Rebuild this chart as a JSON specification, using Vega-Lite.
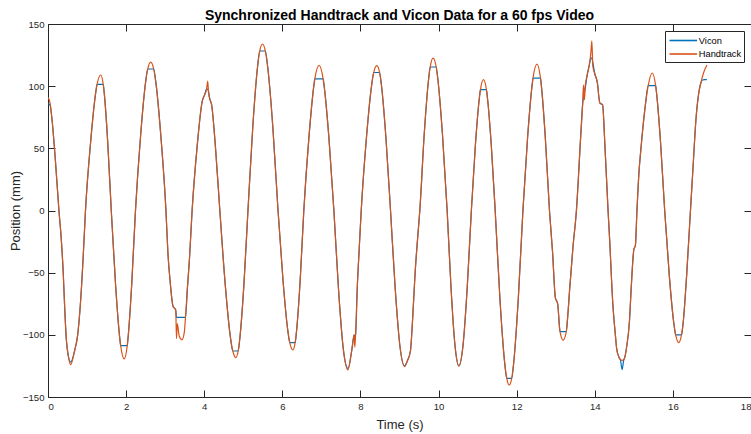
{
  "$schema": "https://vega.github.io/schema/vega-lite/v6.json",
  "width": 703,
  "height": 373,
  "autosize": {"type": "none"},
  "padding": {"left": 48, "top": 24, "right": 0, "bottom": 37},
  "background": "white",
  "title": {"text": "Synchronized Handtrack and Vicon Data for a 60 fps Video", "font": "Liberation Sans", "fontSize": 14, "fontWeight": "bold", "color": "#000000", "anchor": "middle", "frame": "group", "offset": 5, "dy": 9},
  "data": {"values": [
    {"t":0.00,"Vicon":86,"Handtrack":91},
    {"t":0.05,"Vicon":85,"Handtrack":87},
    {"t":0.10,"Vicon":74,"Handtrack":74},
    {"t":0.19,"Vicon":40,"Handtrack":40},
    {"t":0.28,"Vicon":0,"Handtrack":0},
    {"t":0.34,"Vicon":-23,"Handtrack":-23},
    {"t":0.39,"Vicon":-50,"Handtrack":-50},
    {"t":0.43,"Vicon":-80,"Handtrack":-80},
    {"t":0.47,"Vicon":-104,"Handtrack":-104},
    {"t":0.52,"Vicon":-117,"Handtrack":-117},
    {"t":0.58,"Vicon":-122,"Handtrack":-124},
    {"t":0.68,"Vicon":-113,"Handtrack":-113},
    {"t":0.76,"Vicon":-100,"Handtrack":-100},
    {"t":0.83,"Vicon":-75,"Handtrack":-75},
    {"t":0.90,"Vicon":-38,"Handtrack":-38},
    {"t":0.96,"Vicon":0,"Handtrack":0},
    {"t":1.09,"Vicon":54.5,"Handtrack":54.5},
    {"t":1.22,"Vicon":94.4,"Handtrack":94.4},
    {"t":1.257,"Vicon":101.5,"Handtrack":101.5},
    {"t":1.35,"Vicon":101.5,"Handtrack":109},
    {"t":1.414,"Vicon":101.5,"Handtrack":101.5},
    {"t":1.44,"Vicon":94.4,"Handtrack":94.4},
    {"t":1.53,"Vicon":54.5,"Handtrack":54.5},
    {"t":1.62,"Vicon":0,"Handtrack":0},
    {"t":1.73,"Vicon":-59.7,"Handtrack":-59.7},
    {"t":1.84,"Vicon":-103.4,"Handtrack":-103.4},
    {"t":1.861,"Vicon":-108.7,"Handtrack":-108.7},
    {"t":1.95,"Vicon":-108.7,"Handtrack":-119.4},
    {"t":2.029,"Vicon":-108.7,"Handtrack":-108.7},
    {"t":2.047,"Vicon":-103.4,"Handtrack":-103.4},
    {"t":2.143,"Vicon":-59.7,"Handtrack":-59.7},
    {"t":2.24,"Vicon":0,"Handtrack":0},
    {"t":2.37,"Vicon":59.7,"Handtrack":59.7},
    {"t":2.50,"Vicon":103.4,"Handtrack":103.4},
    {"t":2.554,"Vicon":113.8,"Handtrack":113.8},
    {"t":2.63,"Vicon":113.8,"Handtrack":119.4},
    {"t":2.706,"Vicon":113.8,"Handtrack":113.8},
    {"t":2.76,"Vicon":103.4,"Handtrack":103.4},
    {"t":2.89,"Vicon":59.7,"Handtrack":59.7},
    {"t":3.02,"Vicon":0,"Handtrack":0},
    {"t":3.07,"Vicon":-34,"Handtrack":-34},
    {"t":3.13,"Vicon":-58,"Handtrack":-58},
    {"t":3.20,"Vicon":-77,"Handtrack":-77},
    {"t":3.27,"Vicon":-80,"Handtrack":-80},
    {"t":3.29,"Vicon":-86,"Handtrack":-103},
    {"t":3.31,"Vicon":-86,"Handtrack":-91},
    {"t":3.36,"Vicon":-86,"Handtrack":-101},
    {"t":3.43,"Vicon":-86,"Handtrack":-104},
    {"t":3.49,"Vicon":-86,"Handtrack":-98},
    {"t":3.52,"Vicon":-86,"Handtrack":-86},
    {"t":3.57,"Vicon":-62,"Handtrack":-62},
    {"t":3.62,"Vicon":-40,"Handtrack":-40},
    {"t":3.69,"Vicon":0,"Handtrack":0},
    {"t":3.82,"Vicon":52,"Handtrack":52},
    {"t":3.95,"Vicon":88,"Handtrack":88},
    {"t":4.01,"Vicon":93,"Handtrack":93},
    {"t":4.06,"Vicon":97.7,"Handtrack":97.7},
    {"t":4.09,"Vicon":97.7,"Handtrack":104},
    {"t":4.11,"Vicon":96,"Handtrack":95},
    {"t":4.14,"Vicon":90,"Handtrack":90},
    {"t":4.19,"Vicon":85,"Handtrack":85},
    {"t":4.29,"Vicon":50,"Handtrack":50},
    {"t":4.40,"Vicon":0,"Handtrack":0},
    {"t":4.537,"Vicon":-59.2,"Handtrack":-59.2},
    {"t":4.673,"Vicon":-102.4,"Handtrack":-102.4},
    {"t":4.732,"Vicon":-113,"Handtrack":-113},
    {"t":4.81,"Vicon":-113,"Handtrack":-118.3},
    {"t":4.869,"Vicon":-113,"Handtrack":-113},
    {"t":4.913,"Vicon":-102.4,"Handtrack":-102.4},
    {"t":5.017,"Vicon":-59.2,"Handtrack":-59.2},
    {"t":5.12,"Vicon":0,"Handtrack":0},
    {"t":5.243,"Vicon":67,"Handtrack":67},
    {"t":5.367,"Vicon":116,"Handtrack":116},
    {"t":5.422,"Vicon":128.3,"Handtrack":128.3},
    {"t":5.49,"Vicon":128.3,"Handtrack":133.9},
    {"t":5.564,"Vicon":128.3,"Handtrack":128.3},
    {"t":5.623,"Vicon":116,"Handtrack":116},
    {"t":5.757,"Vicon":67,"Handtrack":67},
    {"t":5.89,"Vicon":0,"Handtrack":0},
    {"t":6.017,"Vicon":-56.1,"Handtrack":-56.1},
    {"t":6.143,"Vicon":-97.2,"Handtrack":-97.2},
    {"t":6.191,"Vicon":-106.3,"Handtrack":-106.3},
    {"t":6.27,"Vicon":-106.3,"Handtrack":-112.2},
    {"t":6.328,"Vicon":-106.3,"Handtrack":-106.3},
    {"t":6.363,"Vicon":-97.2,"Handtrack":-97.2},
    {"t":6.457,"Vicon":-56.1,"Handtrack":-56.1},
    {"t":6.55,"Vicon":0,"Handtrack":0},
    {"t":6.68,"Vicon":58.4,"Handtrack":58.4},
    {"t":6.81,"Vicon":101.1,"Handtrack":101.1},
    {"t":6.832,"Vicon":105.8,"Handtrack":105.8},
    {"t":6.94,"Vicon":105.8,"Handtrack":116.7},
    {"t":7.045,"Vicon":105.8,"Handtrack":105.8},
    {"t":7.067,"Vicon":101.1,"Handtrack":101.1},
    {"t":7.193,"Vicon":58.4,"Handtrack":58.4},
    {"t":7.32,"Vicon":0,"Handtrack":0},
    {"t":7.44,"Vicon":-64.2,"Handtrack":-64.2},
    {"t":7.56,"Vicon":-111.1,"Handtrack":-111.1},
    {"t":7.68,"Vicon":-127,"Handtrack":-128.3},
    {"t":7.78,"Vicon":-112,"Handtrack":-112},
    {"t":7.84,"Vicon":-100,"Handtrack":-100},
    {"t":7.855,"Vicon":-101,"Handtrack":-110},
    {"t":7.875,"Vicon":-100,"Handtrack":-100},
    {"t":7.92,"Vicon":-61,"Handtrack":-61},
    {"t":7.97,"Vicon":-30,"Handtrack":-30},
    {"t":8.02,"Vicon":0,"Handtrack":0},
    {"t":8.153,"Vicon":58.3,"Handtrack":58.3},
    {"t":8.287,"Vicon":100.9,"Handtrack":100.9},
    {"t":8.341,"Vicon":111,"Handtrack":111},
    {"t":8.42,"Vicon":111,"Handtrack":116.5},
    {"t":8.489,"Vicon":111,"Handtrack":111},
    {"t":8.537,"Vicon":100.9,"Handtrack":100.9},
    {"t":8.653,"Vicon":58.3,"Handtrack":58.3},
    {"t":8.77,"Vicon":0,"Handtrack":0},
    {"t":8.89,"Vicon":-62.8,"Handtrack":-62.8},
    {"t":9.01,"Vicon":-108.8,"Handtrack":-108.8},
    {"t":9.13,"Vicon":-125,"Handtrack":-125.6},
    {"t":9.20,"Vicon":-121,"Handtrack":-121},
    {"t":9.28,"Vicon":-113,"Handtrack":-113},
    {"t":9.34,"Vicon":-85,"Handtrack":-85},
    {"t":9.40,"Vicon":-50,"Handtrack":-50},
    {"t":9.47,"Vicon":-20,"Handtrack":-20},
    {"t":9.52,"Vicon":0,"Handtrack":0},
    {"t":9.633,"Vicon":61.3,"Handtrack":61.3},
    {"t":9.747,"Vicon":106.2,"Handtrack":106.2},
    {"t":9.786,"Vicon":115.4,"Handtrack":115.4},
    {"t":9.86,"Vicon":115.4,"Handtrack":122.6},
    {"t":9.939,"Vicon":115.4,"Handtrack":115.4},
    {"t":9.98,"Vicon":106.2,"Handtrack":106.2},
    {"t":10.10,"Vicon":61.3,"Handtrack":61.3},
    {"t":10.22,"Vicon":0,"Handtrack":0},
    {"t":10.32,"Vicon":-62.5,"Handtrack":-62.5},
    {"t":10.42,"Vicon":-108.3,"Handtrack":-108.3},
    {"t":10.52,"Vicon":-125,"Handtrack":-125},
    {"t":10.627,"Vicon":-108.3,"Handtrack":-108.3},
    {"t":10.733,"Vicon":-62.5,"Handtrack":-62.5},
    {"t":10.84,"Vicon":0,"Handtrack":0},
    {"t":10.943,"Vicon":52.6,"Handtrack":52.6},
    {"t":11.047,"Vicon":91.1,"Handtrack":91.1},
    {"t":11.073,"Vicon":97.2,"Handtrack":97.2},
    {"t":11.15,"Vicon":97.2,"Handtrack":105.2},
    {"t":11.225,"Vicon":97.2,"Handtrack":97.2},
    {"t":11.25,"Vicon":91.1,"Handtrack":91.1},
    {"t":11.35,"Vicon":52.6,"Handtrack":52.6},
    {"t":11.45,"Vicon":0,"Handtrack":0},
    {"t":11.57,"Vicon":-70.2,"Handtrack":-70.2},
    {"t":11.69,"Vicon":-121.5,"Handtrack":-121.5},
    {"t":11.747,"Vicon":-135,"Handtrack":-135},
    {"t":11.81,"Vicon":-135,"Handtrack":-140.3},
    {"t":11.872,"Vicon":-135,"Handtrack":-135},
    {"t":11.927,"Vicon":-121.5,"Handtrack":-121.5},
    {"t":12.043,"Vicon":-70.2,"Handtrack":-70.2},
    {"t":12.16,"Vicon":0,"Handtrack":0},
    {"t":12.28,"Vicon":58.9,"Handtrack":58.9},
    {"t":12.40,"Vicon":102,"Handtrack":102},
    {"t":12.419,"Vicon":106.5,"Handtrack":106.5},
    {"t":12.52,"Vicon":106.5,"Handtrack":117.8},
    {"t":12.61,"Vicon":106.5,"Handtrack":106.5},
    {"t":12.627,"Vicon":102,"Handtrack":102},
    {"t":12.733,"Vicon":58.9,"Handtrack":58.9},
    {"t":12.84,"Vicon":0,"Handtrack":0},
    {"t":12.92,"Vicon":-34,"Handtrack":-34},
    {"t":12.99,"Vicon":-70,"Handtrack":-70},
    {"t":13.05,"Vicon":-75,"Handtrack":-75},
    {"t":13.10,"Vicon":-95,"Handtrack":-95},
    {"t":13.11,"Vicon":-97.4,"Handtrack":-97.4},
    {"t":13.19,"Vicon":-97.4,"Handtrack":-104.2},
    {"t":13.27,"Vicon":-97.4,"Handtrack":-97.4},
    {"t":13.30,"Vicon":-88,"Handtrack":-88},
    {"t":13.36,"Vicon":-62,"Handtrack":-62},
    {"t":13.44,"Vicon":-30,"Handtrack":-30},
    {"t":13.53,"Vicon":0,"Handtrack":0},
    {"t":13.64,"Vicon":60,"Handtrack":60},
    {"t":13.69,"Vicon":86,"Handtrack":86},
    {"t":13.71,"Vicon":91,"Handtrack":101},
    {"t":13.735,"Vicon":95,"Handtrack":89},
    {"t":13.755,"Vicon":98,"Handtrack":100},
    {"t":13.80,"Vicon":108,"Handtrack":108},
    {"t":13.86,"Vicon":117,"Handtrack":117},
    {"t":13.90,"Vicon":122.6,"Handtrack":127},
    {"t":13.925,"Vicon":122.6,"Handtrack":136.5},
    {"t":13.95,"Vicon":119,"Handtrack":116},
    {"t":14.00,"Vicon":110,"Handtrack":110},
    {"t":14.07,"Vicon":102,"Handtrack":102},
    {"t":14.11,"Vicon":90,"Handtrack":90},
    {"t":14.13,"Vicon":86.5,"Handtrack":86.5},
    {"t":14.20,"Vicon":85,"Handtrack":85},
    {"t":14.26,"Vicon":52,"Handtrack":52},
    {"t":14.34,"Vicon":0,"Handtrack":0},
    {"t":14.38,"Vicon":-23,"Handtrack":-23},
    {"t":14.46,"Vicon":-74,"Handtrack":-74},
    {"t":14.53,"Vicon":-101,"Handtrack":-101},
    {"t":14.56,"Vicon":-111,"Handtrack":-111},
    {"t":14.62,"Vicon":-118,"Handtrack":-118},
    {"t":14.66,"Vicon":-120.5,"Handtrack":-120},
    {"t":14.70,"Vicon":-128,"Handtrack":-120.5},
    {"t":14.74,"Vicon":-120.5,"Handtrack":-120},
    {"t":14.77,"Vicon":-118,"Handtrack":-118},
    {"t":14.81,"Vicon":-111,"Handtrack":-111},
    {"t":14.89,"Vicon":-88,"Handtrack":-88},
    {"t":14.93,"Vicon":-64,"Handtrack":-64},
    {"t":15.00,"Vicon":-31.5,"Handtrack":-31.5},
    {"t":15.04,"Vicon":-28,"Handtrack":-28},
    {"t":15.08,"Vicon":0,"Handtrack":0},
    {"t":15.13,"Vicon":30,"Handtrack":30},
    {"t":15.18,"Vicon":49,"Handtrack":49},
    {"t":15.30,"Vicon":86,"Handtrack":86},
    {"t":15.368,"Vicon":100.4,"Handtrack":100.4},
    {"t":15.47,"Vicon":100.4,"Handtrack":110.6},
    {"t":15.558,"Vicon":100.4,"Handtrack":100.4},
    {"t":15.577,"Vicon":95.8,"Handtrack":95.8},
    {"t":15.683,"Vicon":55.3,"Handtrack":55.3},
    {"t":15.79,"Vicon":0,"Handtrack":0},
    {"t":15.91,"Vicon":-53.2,"Handtrack":-53.2},
    {"t":16.03,"Vicon":-92.1,"Handtrack":-92.1},
    {"t":16.072,"Vicon":-100.1,"Handtrack":-100.1},
    {"t":16.15,"Vicon":-100.1,"Handtrack":-106.3},
    {"t":16.22,"Vicon":-100.1,"Handtrack":-100.1},
    {"t":16.257,"Vicon":-92.1,"Handtrack":-92.1},
    {"t":16.35,"Vicon":-53.2,"Handtrack":-53.2},
    {"t":16.45,"Vicon":0,"Handtrack":0},
    {"t":16.52,"Vicon":37,"Handtrack":37},
    {"t":16.59,"Vicon":73,"Handtrack":73},
    {"t":16.66,"Vicon":94,"Handtrack":94},
    {"t":16.72,"Vicon":103,"Handtrack":103},
    {"t":16.76,"Vicon":105,"Handtrack":108},
    {"t":16.80,"Vicon":105.2,"Handtrack":112},
    {"t":16.87,"Vicon":105.2,"Handtrack":117}
  ]},
  "layer": [
    {
      "mark": {"type": "line", "interpolate": "monotone", "strokeWidth": 1.2, "clip": true},
      "encoding": {
        "x": {"field": "t", "type": "quantitative", "scale": {"domain": [0, 18], "nice": false, "zero": false},
              "axis": {"orient": "bottom", "title": "Time (s)", "values": [0,2,4,6,8,10,12,14,16,18], "titleX": 351.5, "titleY": 31, "titleBaseline": "alphabetic", "titleAnchor": null, "titleAlign": "center"}},
        "y": {"field": "Vicon", "type": "quantitative", "scale": {"domain": [-150, 150], "nice": false, "zero": false},
              "axis": {"orient": "left", "title": "Position (mm)", "values": [-150,-100,-50,0,50,100,150], "titleX": -29, "titleY": 186.5, "titleBaseline": "alphabetic", "titleAngle": -90, "titleAlign": "center", "titleAnchor": null}},
        "color": {"datum": "Vicon", "type": "nominal", "scale": {"domain": ["Vicon", "Handtrack"], "range": ["#0072BD", "#D95319"]},
                  "legend": {"title": null, "orient": "top-right", "offset": 7, "symbolType": "M-2.25,0L2.25,0", "symbolSize": 150, "symbolStrokeWidth": 1.6, "symbolOffset": 8.8, "labelOffset": 8.5, "labelAlign": "left", "labelLimit": 200, "labelFont": "Liberation Sans", "labelFontSize": 9.3, "labelColor": "#000000", "strokeColor": "#262626", "fillColor": "#ffffff", "padding": 2.5, "rowPadding": 0.5, "cornerRadius": 0}}
      }
    },
    {
      "mark": {"type": "line", "interpolate": "monotone", "strokeWidth": 1.2, "clip": true},
      "encoding": {
        "x": {"field": "t", "type": "quantitative", "axis": {"orient": "top", "title": null, "labels": false, "values": [0,2,4,6,8,10,12,14,16,18]}},
        "y": {"field": "Handtrack", "type": "quantitative", "axis": {"orient": "right", "title": null, "labels": false, "values": [-150,-100,-50,0,50,100,150]}},
        "color": {"datum": "Handtrack", "type": "nominal"}
      }
    }
  ],
  "resolve": {"axis": {"x": "independent", "y": "independent"}},
  "config": {
    "view": {"stroke": "#262626", "strokeWidth": 1},
    "axis": {"domain": false, "grid": false, "tickColor": "#262626", "tickSize": -7, "tickWidth": 1, "labelFont": "Liberation Sans", "labelFontSize": 9.6, "labelColor": "#262626", "labelPadding": 11, "titleFont": "Liberation Sans", "titleFontSize": 13, "titleFontWeight": "normal", "titleColor": "#262626"}
  }
}
